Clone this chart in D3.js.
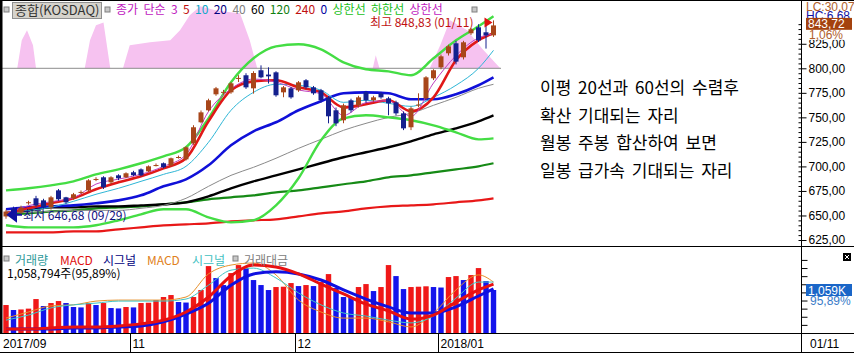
<!DOCTYPE html>
<meta charset="utf-8">
<head>
  <script src="https://d3js.org/d3.v7.min.js"></script>
  <style>
    body { margin: 0; background: #fff; }
    text { font-family: 'Liberation Sans', 'Noto Sans CJK KR', sans-serif; font-size: 12px; }
    .kr { font-family: 'Noto Sans CJK KR', sans-serif; }
  </style>
</head>
<body>
<div id="chart"></div>
<script>
// trading days shown (KOSDAQ daily)
const dates = ["09/29",
  "10/10","10/11","10/12","10/13","10/16","10/17","10/18","10/19","10/20","10/23","10/24","10/25","10/26","10/27","10/30","10/31",
  "11/01","11/02","11/03","11/06","11/07","11/08","11/09","11/10","11/13","11/14","11/15","11/16","11/17","11/20","11/21","11/22","11/23","11/24","11/27","11/28","11/29","11/30",
  "12/01","12/04","12/05","12/06","12/07","12/08","12/11","12/12","12/13","12/14","12/15","12/18","12/19","12/20","12/21","12/22","12/26","12/27","12/28",
  "01/02","01/03","01/04","01/05","01/08","01/09","01/10","01/11"];

const open  = [649,657,653,662.5,667.5,665.4,658.3,675.6,668.5,667.5,673,675.6,686.4,688.9,683.8,690.9,688.9,694,697,695,700.8,703.2,701.1,709,707.2,723.5,745,757.2,773.5,775.5,775.5,789.5,792.9,779.6,798,793.6,795.9,775.5,779.6,777.6,787.8,780.6,777.6,770.4,757.2,747,767.4,762.3,775.5,767.4,774.5,769.4,765.3,754.1,739.9,762.3,769.4,789.8,801,815.3,825.5,811.2,835.7,841.8,836.7,833.6];
const high  = [656,659,660,665,670,667,670,677,669,673,675.5,687,689,690,690,692,694,695.5,698,701,703,704,709,711,720.5,742,757,769,781,778,786,793,795,797,803,801,797,782,781,787,789,782,779,772,760,764,769,772,777,772,776,771,767,756,761,774.5,792,799,814,824,828,828,841,844.9,845.6,848.83];
const low   = [646.68,649,651,661,659,657,656,665,662,666,672,674,685,677,682,686,688,690,690,694,700,698,700,708,706,722,744,756,772,773,774,786,779,774.2,789.8,784.5,771,770.5,769,776,779,773,765,743.9,741,744,755,760,765,766,769,752.1,752,737,737,760.3,768,788,799,813,804,809,834,826.8,820.1,832];
const close = [654,651,658,663.5,660.3,658.3,668.5,666.5,663.4,671.6,674,685.8,687.2,678.7,688.9,687.9,693,691,690.9,700.1,701.4,699.1,708.3,709.6,719.5,739.9,755.1,767.4,779.6,776,784.7,790.2,780.6,795.2,790.8,791.8,772.5,780.6,770.4,785.7,780.6,774.5,767.4,751.1,743.9,762.3,757.2,770.4,767.4,770.4,770.4,764.3,754.1,738.8,759.2,763,790.8,798,812.2,822.4,806.8,826.5,839.8,828.5,833.6,843.72];

// volume, thousand shares
const volume = [689,566,580,600,836,664,738,787,738,640,630,738,689,738,615,605,640,630,738,745,812,886,935,763,750,886,1058,1648,1353,1181,1476,1673,1599,1304,1181,1058,1132,1140,1230,1156,1181,1156,1255,1451,1107,886,870,1132,1205,1033,1132,1673,1402,1082,1132,1140,1150,1132,1120,1378,1402,1304,1427,1599,1279,1059];

// line series read at these candle positions
const lineIdx = [0,3,6,9,12,15,18,21,24,27,30,33,36,39,42,45,48,51,54,57,60,63,65];
const ma3   = [652,660,664,668,682,687,692,700,712,756,779,789,786,778,774,752,765,767,751,785,813,831,835];
const ma5   = [652.2,657.3,662.4,667.5,676.7,683.8,689.9,698.0,708.3,746.0,777.6,786.7,787.8,780.6,775.5,760.2,763.3,767.4,756.2,770.4,808.2,828.5,835.7];
const ma10  = [653.2,655.2,658.3,664.4,671.6,677.7,684.8,691.9,700.1,724.6,757.2,775.5,783.7,782.7,777.6,765.3,767.4,764.3,761.2,770.4,782.7,800,818.3];
const ma20  = [656.3,658.3,659.3,660.3,662.4,665.4,670.5,679.7,686.8,701.1,721.5,735.8,745.0,757.2,766.4,774.5,775.5,774.5,768.4,768.4,773.5,782.7,790.8];
const ma40  = [653.2,653.2,654.2,655.2,655.2,655.2,657.3,660.3,667.5,679.7,690.9,699.1,708.3,718.4,727.6,736.8,743.9,750.0,754.1,762.3,770.4,779.6,783.7];
const ma60  = [652.2,655.2,658.3,658.3,659.3,659.3,660.3,661.4,663.4,669.5,677.7,684.8,690.9,697.0,703.2,709.3,714.4,719.5,725.6,732.7,738.8,746.0,752.1];
const ma120 = [651.2,652.2,654.2,655.2,657.3,658.3,659.3,661.4,663.4,666.5,668.5,670.5,673.6,675.6,678.7,681.8,684.8,688.9,690.9,694.0,697.0,700.1,703.2];
const ma240 = [632.8,632.8,632.8,633.8,633.8,635.9,637.9,639.9,641.0,642.0,644.0,645.1,646.1,649.1,652.2,654.2,657.3,659.3,660.3,661.4,663.4,665.4,667.5];
const bbUpper = [675.6,677.7,680.7,684.8,691.9,697.0,703.2,710.3,719.5,749.0,785.7,810.2,822.4,824.5,819.4,806.1,799.0,796.9,792.9,810.2,828.5,842.8,853.0];
const bbLower = [640.0,637.9,637.9,637.9,640.0,645.1,651.2,656.3,656.3,648.1,643.0,645.1,660.3,687.9,726.6,749.0,752.1,750.0,747.0,741.9,734.8,727.6,728.6];

// MACD panel lines
const macd1 = [-9.7,-9.7,-9.4,-9.1,-9.1,-8.8,-8.2,-7.1,-4.7,-0.3,5.9,9.1,8.5,6.5,3.5,0.6,-2.4,-4.4,-6.8,-5.6,-1.8,1.8,3.5];
const sig1  = [-9.7,-9.7,-9.7,-9.4,-9.4,-9.1,-8.8,-7.6,-5.3,-2.1,3.2,6.5,7.1,6.5,4.7,1.8,-0.9,-3.2,-5.0,-5.0,-3.2,0,2.1];
const macd2 = [-6.5,-4.7,-2.9,-2.6,-1.5,-1.2,-1.2,-1.2,-0.3,6.5,9.1,9.7,6.2,-1.2,-4.7,-6.5,-6.5,-7.6,-9.1,-5.0,1.8,6.2,4.1];
const sig2  = [-7.1,-5.6,-3.5,-2.6,-2.1,-1.5,-1.5,-1.5,-0.9,3.2,7.6,8.2,5.3,0.9,-2.6,-5.0,-5.9,-7.1,-7.9,-5.9,-0.6,4.1,4.1];

// pink overlay above the 800 line
const pinkIdx = [1.5,2.1,2.8,3.6,4.0,10.5,11.2,12,13,13.9,15.6,16.5,19.2,21.9,23.2,24.5,25.9,27.9,29.9,31.2,32.5,33.5,48.9,49.3,49.8,56.5,57.9,59.2,61.5,63.5,65.9];
const pinkVal = [800,828.5,838.7,823.4,800,800,828.5,843.8,846.8,800,800,823.4,826.5,828.5,838.7,854.0,863.2,859.1,857.1,856.1,828.5,800,800,813.3,800,800,823.4,849.0,838.7,820,800];

const priceTicks = [625,650,675,700,725,750,775,800,825];
const monthIdx = [0,17,39,58];
const monthLabels = ["2017/09","11","12","2018/01"];
const notes = ["이평 20선과 60선의 수렴후", "확산 기대되는 자리", "월봉 주봉 합산하여 보면", "일봉 급가속 기대되는 자리"];

const W = 854, H = 353;
const svg = d3.select("#chart").append("svg").attr("width", W).attr("height", H);

const x = d3.scaleLinear().domain([0, 65]).range([6, 493.5]);
const y = d3.scaleLinear().domain([625, 800]).range([240, 68.3]);
const yVol = d3.scaleLinear().domain([0, 1059]).range([333, 290]);
const yMacd = d3.scaleLinear().domain([-10, 10]).range([330, 262]);
const comma = v => d3.format(".2f")(v).replace(".", ",");

svg.append("clipPath").attr("id", "topClip").append("rect").attr("x", 2).attr("y", 1).attr("width", 799).attr("height", 245);
svg.append("clipPath").attr("id", "botClip").append("rect").attr("x", 2).attr("y", 247).attr("width", 799).attr("height", 86);

const topG = svg.append("g").attr("clip-path", "url(#topClip)");
const botG = svg.append("g").attr("clip-path", "url(#botClip)");

// pink area
topG.append("path")
  .datum(d3.zip(pinkIdx, pinkVal))
  .attr("fill", "#F6C2F0")
  .attr("d", d3.area().x(d => x(d[0])).y0(y(800)).y1(d => y(d[1])));

// 800 reference line
topG.append("line").attr("x1", 2).attr("x2", x(66)).attr("y1", y(800)).attr("y2", y(800))
  .attr("stroke", "#8c8c8c").attr("stroke-width", 1);

const line = d3.line().curve(d3.curveMonotoneX).x(d => x(d[0])).y(d => y(d[1]));
function drawLine(vals, color, w) {
  topG.append("path").datum(d3.zip(lineIdx, vals))
    .attr("fill", "none").attr("stroke", color).attr("stroke-width", w).attr("d", line);
}
drawLine(ma240, "#E81818", 2.2);
drawLine(ma120, "#168A16", 2.2);
drawLine(ma60, "#000000", 2.4);
drawLine(ma40, "#8a8a8a", 1);
drawLine(bbLower, "#44DD44", 2.4);
drawLine(bbUpper, "#44DD44", 2.4);
drawLine(ma20, "#1010D8", 2.6);
drawLine(ma10, "#2EB6D6", 1);
drawLine(ma5, "#E01818", 2.6);
drawLine(ma3, "#C040C0", 1);

// candles
const upC = "#A8461A", dnC = "#14208E";
const candles = topG.selectAll(".c").data(d3.range(dates.length)).enter().append("g");
candles.append("line")
  .attr("x1", i => x(i)).attr("x2", i => x(i))
  .attr("y1", i => y(high[i])).attr("y2", i => y(low[i]))
  .attr("stroke", i => close[i] >= open[i] ? upC : dnC).attr("stroke-width", 1);
candles.append("rect")
  .attr("x", i => x(i) - 2.5).attr("width", 5)
  .attr("y", i => y(Math.max(open[i], close[i])))
  .attr("height", i => Math.max(1, Math.abs(y(open[i]) - y(close[i]))))
  .attr("fill", i => close[i] >= open[i] ? upC : dnC);

// low / high markers
const iLow = d3.minIndex(low), iHigh = d3.maxIndex(high);
topG.append("path")
  .attr("d", `M${x(iLow) + 2},${y(low[iLow]) - 4} l8,-6 v12 z M${x(iLow) + 10},${y(low[iLow]) - 4} h6`)
  .attr("fill", "#1010A0").attr("stroke", "#1010A0").attr("stroke-width", 2);
topG.append("text").attr("class", "kr").attr("x", x(iLow) + 17).attr("y", y(low[iLow]) + 1)
  .attr("fill", "#101080").text(`최저 ${comma(low[iLow])} (${dates[iLow]})`);
topG.append("path")
  .attr("d", `M${x(iHigh) - 1},${y(high[iHigh]) + 2} l-8,-5 v10 z`)
  .attr("fill", "#E01010");
topG.append("text").attr("class", "kr").attr("x", x(iHigh) - 20).attr("y", y(high[iHigh]) + 7)
  .attr("text-anchor", "end").attr("fill", "#C01010").text(`최고 ${comma(high[iHigh])} (${dates[iHigh]})`);

// volume bars
botG.selectAll(".v").data(volume).enter().append("rect")
  .attr("x", (d, i) => x(i) - 2.7).attr("width", 5.4)
  .attr("y", d => yVol(d)).attr("height", d => 333 - yVol(d))
  .attr("fill", (d, i) => (i === 0 || d >= volume[i - 1]) ? "#F01818" : "#1414EC");

const mline = d3.line().curve(d3.curveMonotoneX).x(d => x(d[0])).y(d => yMacd(d[1]));
function drawM(vals, color, w) {
  botG.append("path").datum(d3.zip(lineIdx, vals))
    .attr("fill", "none").attr("stroke", color).attr("stroke-width", w).attr("d", mline);
}
drawM(macd2, "#E8902A", 1);
drawM(sig2, "#40C4C4", 1);
drawM(sig1, "#1010E0", 3);
drawM(macd1, "#E81010", 3);

// frame lines
svg.append("line").attr("x1", 0).attr("x2", W).attr("y1", 0.5).attr("y2", 0.5).attr("stroke", "#000");
svg.append("rect").attr("x", 0).attr("y", 0).attr("width", 2.5).attr("height", 334).attr("fill", "#000");
svg.append("line").attr("x1", 0).attr("x2", W).attr("y1", 246.5).attr("y2", 246.5).attr("stroke", "#000");
svg.append("line").attr("x1", 0).attr("x2", W).attr("y1", 333.5).attr("y2", 333.5).attr("stroke", "#000");
svg.append("line").attr("x1", 0).attr("x2", W).attr("y1", 352.5).attr("y2", 352.5).attr("stroke", "#000");
svg.append("line").attr("x1", 801.5).attr("x2", 801.5).attr("y1", 0).attr("y2", H).attr("stroke", "#000");

// right price axis
const axR = svg.append("g").attr("transform", "translate(801.5,0)")
  .call(d3.axisRight(y).tickValues(priceTicks).tickFormat(comma).tickSize(5).tickPadding(2));
axR.select(".domain").remove();
axR.selectAll("text").style("font-size", "12px").style("font-family", "Liberation Sans").attr("fill", "#000");
const axMinor = svg.append("g").attr("transform", "translate(801.5,0)")
  .call(d3.axisLeft(y).tickValues(d3.range(625, 850, 5)).tickFormat("").tickSize(3));
axMinor.select(".domain").remove();

// right volume axis ticks
const axV = svg.append("g").attr("transform", "translate(801.5,0)")
  .call(d3.axisRight(yVol).tickValues(d3.range(0, 2000, 200)).tickFormat("").tickSize(6));
axV.select(".domain").remove();
axV.selectAll(".tick").filter(d => yVol(d) < 249).remove();

// right header values
const yLast = y(close[65]);
svg.append("text").attr("x", 806).attr("y", 10.5).attr("fill", "#B0602C").text("LC:30,07");
svg.append("text").attr("x", 806).attr("y", 20).attr("fill", "#1010A0").text("HC:6,68");
svg.append("rect").attr("x", 806).attr("y", yLast - 7.5).attr("width", 46).attr("height", 12).attr("fill", "#A4420E");
svg.append("text").attr("x", 808).attr("y", yLast + 3).attr("fill", "#fff").text(comma(close[65]));
svg.append("rect").attr("x", 806).attr("y", yLast + 4.5).attr("width", 46).attr("height", 10).attr("fill", "#fff");
svg.append("text").attr("x", 809).attr("y", yLast + 13.5).attr("fill", "#B0602C").text("1,06%");

svg.append("rect").attr("x", 806).attr("y", yVol(volume[65]) - 6).attr("width", 46).attr("height", 12).attr("fill", "#1A66C8");
svg.append("text").attr("x", 808).attr("y", yVol(volume[65]) + 4.5).attr("fill", "#fff").text(d3.format(",")(volume[65]) + "K");
svg.append("text").attr("x", 810).attr("y", yVol(volume[65]) + 15).attr("fill", "#3A7CC8").text("95,89%");
svg.append("rect").attr("x", 843).attr("y", 253).attr("width", 8).attr("height", 8).attr("fill", "#000");
svg.append("path").attr("d", "M845,255 l4,4 M849,255 l-4,4").attr("stroke", "#fff").attr("stroke-width", 1);

// x axis row
monthIdx.forEach((m, k) => {
  const xx = k === 0 ? 1 : Math.round(x(m) - 3.5) + 0.5;
  if (k > 0) svg.append("line").attr("x1", xx).attr("x2", xx).attr("y1", 334).attr("y2", 353).attr("stroke", "#000");
  svg.append("text").attr("x", xx + 2).attr("y", 348).attr("fill", "#000").text(monthLabels[k]);
});
svg.append("text").attr("x", 810).attr("y", 348).attr("fill", "#000").text(dates[dates.length - 1]);

// legends
function icon(px, py) {
  svg.append("rect").attr("x", px).attr("y", py).attr("width", 5).attr("height", 5)
    .attr("fill", "#c8c8c8").attr("stroke", "#808080").attr("stroke-width", 1);
}
icon(4, 7);
svg.append("rect").attr("x", 12.5).attr("y", 2.5).attr("width", 89).attr("height", 16)
  .attr("fill", "#D6D3CC").attr("stroke", "#909090");
svg.append("text").attr("class", "kr").attr("x", 15).attr("y", 15).style("font-size", "13px").attr("fill", "#333").text("종합(KOSDAQ)");
icon(105, 7);
const leg1 = svg.append("text").attr("class", "kr").attr("x", 116).attr("y", 14);
[["종가 단순 3", "#C020C0"], [" 5", "#C01010"], [" 10", "#10A8C8"], [" 20", "#000080"], [" 40", "#808080"],
 [" 60", "#000"], [" 120", "#108010"], [" 240", "#C01010"], [" 0", "#0000A0"], [" 상한선", "#20C020"],
 [" 하한선", "#20C020"], [" 상한선", "#C020C0"]].forEach(([t, c]) =>
  leg1.append("tspan").attr("fill", c).text(t.replace(/ /g, "\u00a0\u00a0")));
icon(472, 7);

icon(4, 256);
[["거래량", "#2E9A9A", 15], ["MACD", "#E01010", 60], ["시그널", "#000080", 103], ["MACD", "#E08020", 147], ["시그널", "#40C0C0", 192]]
  .forEach(([t, c, px]) => svg.append("text").attr("class", "kr").attr("x", px).attr("y", 265).attr("fill", c).text(t));
icon(233, 256);
svg.append("text").attr("class", "kr").attr("x", 244).attr("y", 265).attr("fill", "#808080").text("거래대금");
svg.append("text").attr("class", "kr").attr("x", 7).attr("y", 278).attr("fill", "#000")
  .text(d3.format(",")(1058794) + "주(95,89%)");

// annotation
svg.selectAll(".note").data(notes).enter().append("text").attr("class", "kr")
  .attr("x", 540).attr("y", (d, i) => 94 + i * 27.7)
  .style("font-size", "17px").style("word-spacing", "3px").attr("fill", "#000").text(d => d);
</script>
</body>
